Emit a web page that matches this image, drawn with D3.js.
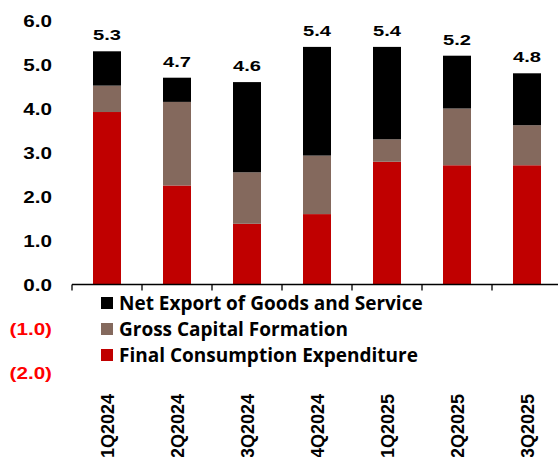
<!DOCTYPE html>
<html>
<head>
<meta charset="utf-8">
<script src="https://d3js.org/d3.v7.min.js"></script>
<style>
  body { margin: 0; padding: 0; background: #fff; }
  text { font-family: "Liberation Sans", Arial, sans-serif; font-weight: bold; }
  .legend text { font-family: "Open Sans", sans-serif; font-weight: 700; }
</style>
</head>
<body>
<div id="chart"></div>
<script>
// quarters and contributions (ppt)
const quarters = ["1Q2024", "2Q2024", "3Q2024", "4Q2024", "1Q2025", "2Q2025", "3Q2025"];
const consumption = [3.92, 2.25, 1.38, 1.60, 2.79, 2.71, 2.71];
const capital = [0.60, 1.90, 1.17, 1.33, 0.51, 1.29, 0.91];
const netExport = [0.78, 0.55, 2.05, 2.47, 2.10, 1.20, 1.18];
const totals = ["5.3", "4.7", "4.6", "5.4", "5.4", "5.2", "4.8"];
const yTicks = [-2, -1, 0, 1, 2, 3, 4, 5, 6];

const series = [
  { name: "Final Consumption Expenditure", values: consumption, color: "#C00000" },
  { name: "Gross Capital Formation", values: capital, color: "#84695D" },
  { name: "Net Export of Goods and Service", values: netExport, color: "#000000" }
];

const W = 558, H = 457;
const svg = d3.select("#chart").append("svg")
  .attr("width", W).attr("height", H);

const x = d3.scaleBand().domain(quarters).range([72, 562]).padding(0);
const y = d3.scaleLinear().domain([-2, 6]).range([372.5, 20.5]);
const barW = x.bandwidth() * 0.4;

// stacked bars
const rows = quarters.map((q, i) => {
  const r = { q };
  series.forEach(s => r[s.name] = s.values[i]);
  return r;
});
const stack = d3.stack().keys(series.map(s => s.name))(rows);

svg.append("g").selectAll("g")
  .data(stack)
  .join("g")
  .attr("fill", (d, i) => series[i].color)
  .selectAll("rect")
  .data(d => d)
  .join("rect")
  .attr("x", d => x(d.data.q) + (x.bandwidth() - barW) / 2)
  .attr("y", d => y(d[1]))
  .attr("width", barW)
  .attr("height", d => y(d[0]) - y(d[1]));

// y tick labels (no axis line)
const fmt = v => v < 0 ? `(${Math.abs(v).toFixed(1)})` : v.toFixed(1);
svg.append("g").selectAll("text")
  .data(yTicks)
  .join("text")
  .attr("transform", d => `translate(52,${y(d) + 6}) scale(1.25,1)`)
  .attr("text-anchor", "end")
  .style("font-size", "16.5px")
  .attr("fill", d => d < 0 ? "#FF0000" : "#000")
  .text(fmt);

// x axis at zero
const xAxis = svg.append("g")
  .attr("transform", `translate(0,${y(0)})`);
xAxis.append("line")
  .attr("x1", 72).attr("x2", W)
  .attr("stroke", "#000").attr("stroke-width", 1.3);
xAxis.selectAll(".tk")
  .data(quarters)
  .join("line")
  .attr("class", "tk")
  .attr("x1", d => x(d)).attr("x2", d => x(d))
  .attr("y1", 0).attr("y2", 6)
  .attr("stroke", "#000").attr("stroke-width", 1.3);

// category labels, rotated
svg.append("g").selectAll("text")
  .data(quarters)
  .join("text")
  .attr("transform", d => `translate(${x(d) + x.bandwidth() / 2 + 6.5},394) rotate(-90)`)
  .attr("text-anchor", "end")
  .style("font-size", "18px")
  .text(d => d);

// totals above bars
svg.append("g").selectAll("text")
  .data(quarters)
  .join("text")
  .attr("transform", (d, i) => {
    const top = consumption[i] + capital[i] + netExport[i];
    return `translate(${x(d) + x.bandwidth() / 2},${y(top) - 11}) scale(1.3,1)`;
  })
  .attr("text-anchor", "middle")
  .style("font-size", "15.5px")
  .text((d, i) => totals[i]);

// legend
const legend = svg.append("g").attr("class", "legend");
const legendOrder = series.slice().reverse();
legendOrder.forEach((s, i) => {
  const cy = 303 + i * 26;
  legend.append("rect")
    .attr("x", 101).attr("y", cy - 6)
    .attr("width", 12).attr("height", 12)
    .attr("fill", s.color);
  legend.append("text")
    .attr("x", 119).attr("y", cy + 7)
    .style("font-size", "19px")
    .text(s.name);
});
</script>
</body>
</html>
